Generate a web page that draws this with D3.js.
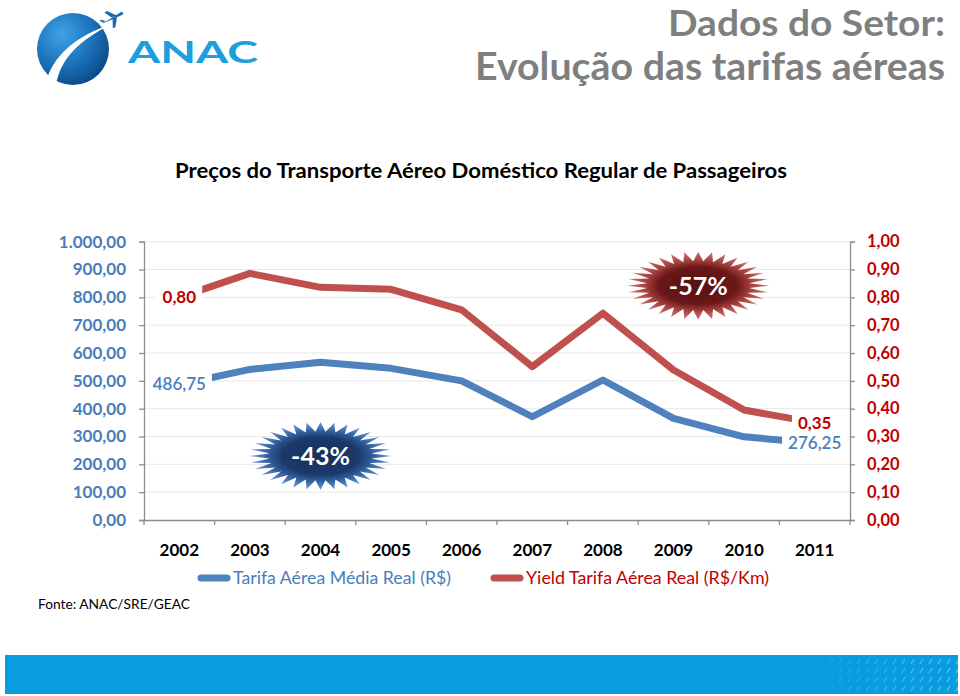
<!DOCTYPE html>
<html><head><meta charset="utf-8">
<script src="https://cdn.jsdelivr.net/npm/d3@7"></script>
<style>html,body{margin:0;padding:0;background:#fff;}svg{display:block;font-family:Lato,"Open Sans",sans-serif;}</style>
</head><body>
<script>
// ---------- DATA ----------
const years = ["2002","2003","2004","2005","2006","2007","2008","2009","2010","2011"];
const tarifaMedia = [486.75, 541, 567, 545, 500, 371, 503, 365, 299, 276.25];      // R$ (left axis)
const yieldTarifa = [0.80, 0.886, 0.836, 0.829, 0.755, 0.551, 0.743, 0.539, 0.395, 0.35]; // R$/Km (right axis)
const leftTicks = [0,100,200,300,400,500,600,700,800,900,1000];
const rightTicks = [0,0.1,0.2,0.3,0.4,0.5,0.6,0.7,0.8,0.9,1.0];
const seriesNames = ["Tarifa Aérea Média Real (R$)", "Yield Tarifa Aérea Real (R$/Km)"];
const badges = [{text:"-43%", year:"2004", at:0.5, value:230, kind:"blue"},
                {text:"-57%", year:"2009", at:0.85, value:0.842, kind:"red"}];

// ---------- SETUP ----------
const W = 960, H = 696;
const svg = d3.select("body").append("svg").attr("width", W).attr("height", H);
svg.append("rect").attr("width", W).attr("height", H).attr("fill", "#fff");
const defs = svg.append("defs");

const br = d3.formatLocale({decimal:",", thousands:".", grouping:[3], currency:["R$",""]});
const fLeft = br.format(",.2f"), fRight = br.format(".2f");

const plot = {left:144, right:850, top:241.7, bottom:520};
const x = d3.scaleBand().domain(years).range([plot.left, plot.right]);
const yL = d3.scaleLinear().domain([0,1000]).range([plot.bottom, plot.top]);
const yR = d3.scaleLinear().domain([0,1]).range([plot.bottom, plot.top]);
const cx = d => x(d) + x.bandwidth()/2;

const BLUE = "#4F81BD", RED = "#C0504D", DRED = "#C00000", AXIS = "#8C8C8C";

// ---------- HEADER ----------
const gLogo = svg.append("g");
const gg = defs.append("radialGradient").attr("id","globe").attr("cx","35%").attr("cy","30%").attr("r","75%");
gg.append("stop").attr("offset","0%").attr("stop-color","#3FA2E6");
gg.append("stop").attr("offset","55%").attr("stop-color","#1B74BC");
gg.append("stop").attr("offset","100%").attr("stop-color","#0B4A88");
gLogo.append("circle").attr("cx",73).attr("cy",49).attr("r",36).attr("fill","url(#globe)");
gLogo.append("path").attr("fill","#fff")
  .attr("d","M46,82 C52,58 74,36 112,24 C80,40 60,58 56,86 Z");
gLogo.append("path").attr("fill","#1A6AAE")
  .attr("transform","translate(113,18) rotate(-28)")
  .attr("d","M-12,0 L10,-1.5 Q13,0 10,1.5 L-12,0 Z M-1,-1 L-5,-9 L-2,-9 L4,-1 Z M-1,1 L-5,9 L-2,9 L4,1 Z M-11,-0.5 L-13,-4 L-11,-4 L-8,-0.5 Z");
gLogo.append("text").attr("x",128).attr("y",63).attr("font-size",31).attr("font-weight",700)
  .attr("fill","#1C9FDD").attr("textLength",130).attr("lengthAdjust","spacingAndGlyphs").text("ANAC");

// title
svg.append("text").attr("x",945).attr("y",36).attr("text-anchor","end").attr("font-size",36)
  .attr("font-weight",700).attr("fill","#7F7F7F").attr("textLength",277).attr("lengthAdjust","spacingAndGlyphs")
  .text("Dados do Setor:");
svg.append("text").attr("x",945).attr("y",80).attr("text-anchor","end").attr("font-size",39)
  .attr("font-weight",700).attr("fill","#7F7F7F").attr("textLength",470).attr("lengthAdjust","spacingAndGlyphs")
  .text("Evolução das tarifas aéreas");

// subtitle
svg.append("text").attr("x",175).attr("y",178).attr("font-size",20).attr("font-weight",700)
  .attr("fill","#000").attr("textLength",612).attr("lengthAdjust","spacingAndGlyphs")
  .text("Preços do Transporte Aéreo Doméstico Regular de Passageiros");

// ---------- GRID ----------
svg.append("g").selectAll("line").data(leftTicks.filter(d=>d>0)).join("line")
  .attr("x1",plot.left).attr("x2",plot.right).attr("y1",d=>yL(d)).attr("y2",d=>yL(d))
  .attr("stroke","#E8E8E8").attr("stroke-width",1);

// ---------- AXES ----------
function styleAxis(g){
  g.select(".domain").attr("stroke",AXIS).attr("stroke-width",1.3);
  g.selectAll(".tick line").attr("stroke",AXIS).attr("stroke-width",1.3);
}
const axL = svg.append("g").attr("transform",`translate(${plot.left},0)`)
  .call(d3.axisLeft(yL).tickValues(leftTicks).tickFormat(fLeft).tickSize(5).tickSizeOuter(5).tickPadding(13));
styleAxis(axL);
axL.selectAll(".tick text").attr("font-size",17).attr("font-weight",700).attr("fill","#4A7EBB").attr("font-family","Lato");

const axR = svg.append("g").attr("transform",`translate(${plot.right},0)`)
  .call(d3.axisRight(yR).tickValues(rightTicks).tickFormat(fRight).tickSize(5).tickSizeOuter(5).tickPadding(12));
styleAxis(axR);
axR.selectAll(".tick text").attr("font-size",16.5).attr("font-weight",700).attr("fill",DRED).attr("font-family","Lato");

const axB = svg.append("g").attr("transform",`translate(0,${plot.bottom})`)
  .call(d3.axisBottom(x).tickSize(0).tickPadding(24));
styleAxis(axB);
axB.selectAll(".tick text").attr("font-size",17).attr("font-weight",700).attr("fill","#000").attr("font-family","Lato");
svg.append("g").selectAll("line").data(years.concat(["end"])).join("line")
  .attr("x1",(d,i)=>plot.left + i*x.bandwidth()).attr("x2",(d,i)=>plot.left + i*x.bandwidth())
  .attr("y1",plot.bottom).attr("y2",plot.bottom+5).attr("stroke",AXIS).attr("stroke-width",1.3);

// ---------- LINES ----------
const lineL = d3.line().x((d,i)=>cx(years[i])).y(d=>yL(d));
const lineR = d3.line().x((d,i)=>cx(years[i])).y(d=>yR(d));
svg.append("path").datum(yieldTarifa).attr("d",lineR).attr("fill","none")
  .attr("stroke",RED).attr("stroke-width",7).attr("stroke-linejoin","round");
svg.append("path").datum(tarifaMedia).attr("d",lineL).attr("fill","none")
  .attr("stroke",BLUE).attr("stroke-width",7).attr("stroke-linejoin","round");

// ---------- DATA LABELS (first & last, white box) ----------
function label(xp, yp, txt, color, weight){
  const g = svg.append("g");
  const r = g.append("rect").attr("fill","#fff");
  const t = g.append("text").attr("x",xp).attr("y",yp).attr("dy","0.35em").attr("text-anchor","middle")
    .attr("font-size",17).attr("font-weight",weight).attr("fill",color).text(txt);
  const b = t.node().getBBox();
  r.attr("x",b.x-6).attr("y",b.y-1).attr("width",b.width+12).attr("height",b.height+2);
}
const last = years.length-1;
label(cx(years[0]), yR(yieldTarifa[0]), fRight(yieldTarifa[0]), DRED, 700);
label(cx(years[0]), yL(tarifaMedia[0]), fLeft(tarifaMedia[0]), "#4A7EBB", 600);
label(cx(years[last]), yR(yieldTarifa[last]), fRight(yieldTarifa[last]), DRED, 700);
label(cx(years[last]), yL(tarifaMedia[last]), fLeft(tarifaMedia[last]), "#4A7EBB", 600);

// ---------- BADGES (32-point stars) ----------
const gradDefs = {
  blue: [["0%","#15305A"],["55%","#1B3A6B"],["72%","#2E5A98"],["100%","#6A9BDC"]],
  red:  [["0%","#561010"],["55%","#6A1818"],["72%","#9C3B39"],["100%","#DA7472"]]
};
Object.entries(gradDefs).forEach(([k,stops])=>{
  const g = defs.append("radialGradient").attr("id","burst-"+k).attr("cx","50%").attr("cy","50%").attr("r","50%");
  stops.forEach(s=>g.append("stop").attr("offset",s[0]).attr("stop-color",s[1]));
});
const N = 32;
const starPts = d3.range(N*2).map(i=>{
  const a = i*Math.PI/N - Math.PI/2, r = i%2===0 ? 1 : 0.72;
  return [Math.cos(a)*r, Math.sin(a)*r];
});
badges.forEach(b=>{
  const bx = x(b.year) + x.bandwidth()*b.at;
  const by = b.kind==="blue" ? yL(b.value) : yR(b.value);
  const g = svg.append("g").attr("transform",`translate(${bx},${by})`);
  g.append("path").attr("transform","scale(71,34)").attr("d","M"+starPts.join("L")+"Z")
    .attr("fill",`url(#burst-${b.kind})`);
  g.append("text").attr("text-anchor","middle").attr("dy","0.36em").attr("font-size",25)
    .attr("font-weight",700).attr("fill","#fff").text(b.text);
});

// ---------- LEGEND ----------
const legend = [{name:seriesNames[0], color:BLUE, text:"#4A7EBB", x:199, len:218},
                {name:seriesNames[1], color:RED, text:DRED, x:492, len:243}];
const lg = svg.append("g").selectAll("g").data(legend).join("g").attr("transform",d=>`translate(${d.x},578)`);
lg.append("line").attr("x1",2).attr("x2",28).attr("stroke",d=>d.color).attr("stroke-width",7).attr("stroke-linecap","round");
lg.append("text").attr("x",34).attr("dy","0.35em").attr("font-size",17).attr("fill",d=>d.text)
  .attr("textLength",d=>d.len).attr("lengthAdjust","spacingAndGlyphs").text(d=>d.name);

// ---------- SOURCE ----------
svg.append("text").attr("x",38).attr("y",609).attr("font-size",12.5).attr("fill","#000")
  .attr("textLength",152).attr("lengthAdjust","spacingAndGlyphs").text("Fonte: ANAC/SRE/GEAC");

// ---------- FOOTER BAR ----------
const pat = defs.append("pattern").attr("id","dash").attr("patternUnits","userSpaceOnUse").attr("width",9).attr("height",9);
pat.append("line").attr("x1",2).attr("y1",7).attr("x2",5).attr("y2",2).attr("stroke","#6CC6F2").attr("stroke-width",1.2);
const fm = defs.append("linearGradient").attr("id","fade").attr("x1","0").attr("x2","1");
fm.append("stop").attr("offset","0").attr("stop-color","#fff").attr("stop-opacity",0);
fm.append("stop").attr("offset","1").attr("stop-color","#fff").attr("stop-opacity",1);
defs.append("mask").attr("id","fadeMask").append("rect").attr("x",800).attr("y",655).attr("width",158).attr("height",39).attr("fill","url(#fade)");
svg.append("rect").attr("x",5).attr("y",655).attr("width",953).attr("height",39).attr("fill","#0A9CE0");
svg.append("rect").attr("x",800).attr("y",655).attr("width",158).attr("height",39).attr("fill","url(#dash)").attr("mask","url(#fadeMask)");
</script>
</body></html>
